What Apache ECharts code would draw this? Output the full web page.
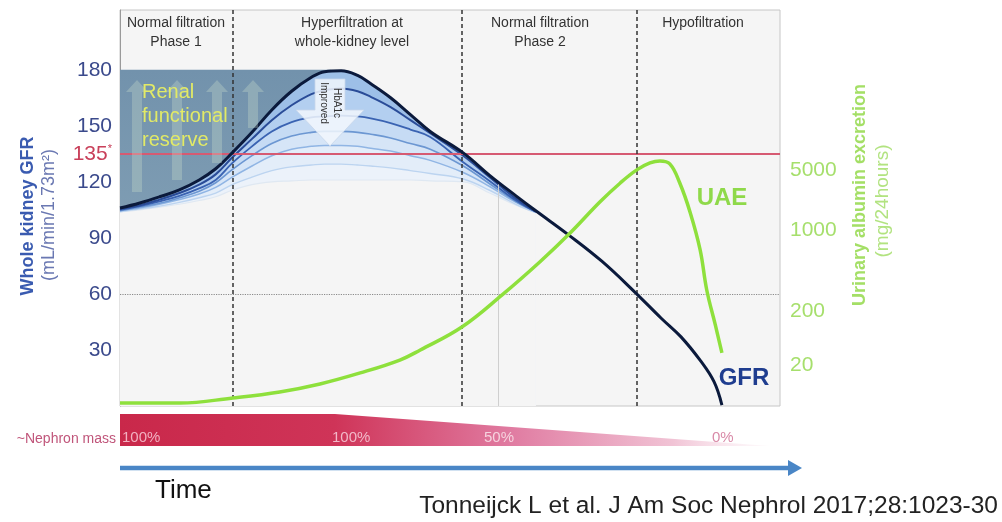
<!DOCTYPE html>
<html>
<head>
<meta charset="utf-8">
<script src="https://cdn.jsdelivr.net/npm/echarts@6/dist/echarts.min.js"></script>
<style>
html, body { margin: 0; padding: 0; background: #fff; }
#main { width: 1002px; height: 522px; }
</style>
</head>
<body>
<div id="main"></div>
<script>
// time axis runs 0..100 across the plot, GFR in mL/min/1.73m2
var gfrX = [0, 3, 6, 9, 12, 14.5, 17, 20, 23, 26, 29, 31, 33.5, 36, 38, 41, 44, 47, 52, 56, 60, 63, 68, 73, 78, 82, 85, 88, 90, 91.2];
var gfrMain = [106, 108.7, 112, 115.7, 121, 127, 135.5, 146.5, 158.5, 168.5, 176, 179, 179.5, 177, 172.5, 165, 156, 147, 135.5, 123.5, 112.5, 104.5, 91.5, 77.5, 61, 47, 37, 24, 13, 0.5];

// lower curves (improved HbA1c), they join the main curve at x = 63
var gfrC2 = [105.5, 107.5, 110.5, 114, 118.5, 124, 133, 143, 153, 161, 167, 169, 170, 168.5, 165.5, 160, 153, 146, 134, 122.5, 111, 104];
var gfrC3 = [105, 107, 109.5, 112.5, 116.5, 121, 130, 139, 147, 152, 154.5, 155, 155.5, 155, 154, 151.5, 148, 144, 130.5, 120.5, 110, 104];
var gfrC4 = [104.5, 106.5, 108.5, 111.5, 115, 119.5, 126.5, 134, 140.5, 144.5, 146.5, 147, 147, 146.5, 145.5, 143.5, 140.5, 137.5, 128.5, 119, 109.5, 104];
var gfrC5 = [104.5, 106, 108, 110.5, 113.5, 117, 122.5, 128.5, 134, 137.5, 139, 139.5, 139.5, 139, 138, 136.5, 134, 131.5, 125, 117.5, 109, 104];
var gfrC6 = [104, 105.5, 107, 109, 111.5, 114, 118.5, 122.5, 126, 128, 129, 129.5, 129.5, 129, 128.5, 127.5, 126, 124.5, 121.5, 115.5, 108, 103.5];
var gfrC7 = [104, 105, 106.5, 108, 110, 112, 115.5, 118.5, 120, 120.5, 121, 121, 121, 121, 121, 121, 121, 120.5, 120, 114, 107.5, 103.5];

// UAE drawn in the same plot units as the left axis
var uaeX = [0, 9.1, 17.1, 24.2, 30.3, 36.4, 42.4, 45.5, 51.8, 57.9, 63.6, 68.2, 72.7, 75.8, 78.3, 80.3, 81.8, 83.3, 84.8, 86.4, 87.9, 88.9, 90.2, 91.2];
var uaeY = [1.6, 1.6, 4.3, 7.5, 11.8, 17.7, 24.6, 30, 42.3, 59.5, 77.1, 92.6, 109.2, 119.4, 126.4, 130.1, 131.2, 129.6, 119.5, 103.5, 83.6, 62.1, 43.4, 28.4];

var gfrTicks = [30, 60, 90, 120, 150, 180];
var gfrLabels = [30, 60, 90, 120, 135, 150, 180];
var uaeTickPos = [22, 51, 94, 126];
var uaeTickLabels = ['20', '200', '1000', '5000'];

var phaseBounds = [17.1, 51.8, 78.3];
var reserveX = [0, 32];
var reserveLevel = 180;
var normalLevel = 135;
var ckdLevel = 60;

function pairs(xs, ys) {
	var out = [];
	for (var i = 0; i < ys.length; i++) {
		out.push([xs[i], ys[i]]);
	}
	return out;
}

var family = [
	{ data: gfrMain.slice(0, 22), line: '#0b1a3c', fill: '#9dbfe7', w: 3 },
	{ data: gfrC2, line: '#2a4c98', fill: '#b3cff0', w: 2 },
	{ data: gfrC3, line: '#3a63b2', fill: '#c6dbf4', w: 1.8 },
	{ data: gfrC4, line: '#6c97d2', fill: '#d6e5f7', w: 1.6 },
	{ data: gfrC5, line: '#90b5e4', fill: '#e3edf9', w: 1.5 },
	{ data: gfrC6, line: '#bcd4f0', fill: '#ecf2fa', w: 1.4 },
	{ data: gfrC7, line: '#dfe8f2', fill: '#f5f5f5', w: 1.2 }
];

var series = [];

// renal functional reserve box (lower part is covered by the curve fills)
series.push({
	type: 'line',
	z: 1,
	silent: true,
	symbol: 'none',
	data: [[reserveX[0], reserveLevel], [reserveX[1], reserveLevel]],
	lineStyle: { width: 0 },
	areaStyle: {
		opacity: 1,
		color: new echarts.graphic.LinearGradient(0, 0, 0, 1, [
			{ offset: 0, color: '#7292ac' },
			{ offset: 1, color: '#8eaabc' }
		])
	}
});

family.forEach(function (f) {
	series.push({
		type: 'line',
		z: 2,
		silent: true,
		symbol: 'none',
		smooth: 0.4,
		data: pairs(gfrX, f.data),
		lineStyle: { width: 0 },
		areaStyle: { color: f.fill, opacity: 1 }
	});
});

// reference lines
series.push({
	type: 'line',
	z: 3,
	silent: true,
	data: [],
	markLine: {
		silent: true,
		symbol: 'none',
		label: { show: false },
		data: [
			{ yAxis: normalLevel, lineStyle: { color: '#d65a72', width: 2, type: 'solid' } },
			{ yAxis: ckdLevel, lineStyle: { color: '#8a8a8a', width: 1.2, type: 'dotted' } },
			[{ coord: [57.3, 119], lineStyle: { color: '#cfcfcf', width: 1, type: 'solid' } }, { coord: [57.3, 0] }]
		].concat(phaseBounds.map(function (x) {
			return { xAxis: x, lineStyle: { color: '#333', width: 1.5, type: [4, 3] } };
		}))
	}
});

family.slice(1).reverse().forEach(function (f) {
	series.push({
		type: 'line',
		z: 4,
		silent: true,
		symbol: 'none',
		smooth: 0.4,
		data: pairs(gfrX, f.data),
		lineStyle: { color: f.line, width: f.w }
	});
});

series.push({
	name: 'GFR',
	type: 'line',
	z: 5,
	symbol: 'none',
	smooth: 0.4,
	data: pairs(gfrX, gfrMain),
	lineStyle: { color: '#0b1a3c', width: 3 }
});

series.push({
	name: 'UAE',
	type: 'line',
	z: 6,
	yAxisIndex: 1,
	symbol: 'none',
	smooth: 0.4,
	data: pairs(uaeX, uaeY),
	lineStyle: { color: '#8ee03c', width: 3.5 }
});

function upArrow(cx, top, bottom) {
	return {
		type: 'polygon',
		z: 20,
		silent: true,
		shape: { points: [[cx - 5, bottom], [cx - 5, top + 12], [cx - 11, top + 12], [cx, top], [cx + 11, top + 12], [cx + 5, top + 12], [cx + 5, bottom]] },
		style: { fill: 'rgba(215,235,210,0.28)' }
	};
}

function txt(x, y, text, font, color, align, rot) {
	return {
		type: 'text',
		z: 30,
		silent: true,
		x: x,
		y: y,
		rotation: rot || 0,
		style: {
			text: text,
			font: font,
			fill: color,
			textAlign: align || 'center',
			textVerticalAlign: 'middle'
		}
	};
}

var FF = '"Liberation Sans", Arial, sans-serif';

var graphics = [
	upArrow(137, 80, 192),
	upArrow(177, 80, 180),
	upArrow(217, 80, 163),
	upArrow(253, 80, 128),
	{
		type: 'polygon',
		z: 25,
		silent: true,
		shape: { points: [[315, 79], [345, 79], [345, 110], [364, 110], [330, 146], [296, 110], [315, 110]] },
		style: { fill: 'rgba(242,247,253,0.85)', stroke: 'rgba(200,215,235,0.8)', lineWidth: 1 }
	},
	txt(324, 103, 'Improved', '10px ' + FF, '#333', 'center', -Math.PI / 2),
	txt(337, 103, 'HbA1c', '10px ' + FF, '#333', 'center', -Math.PI / 2),
	txt(142, 92, 'Renal', '20px ' + FF, '#e2ea66', 'left'),
	txt(142, 116, 'functional', '20px ' + FF, '#e2ea66', 'left'),
	txt(142, 140, 'reserve', '20px ' + FF, '#e2ea66', 'left'),

	txt(176, 23, 'Normal filtration', '14px ' + FF, '#333'),
	txt(176, 42, 'Phase 1', '14px ' + FF, '#333'),
	txt(352, 23, 'Hyperfiltration at', '14px ' + FF, '#333'),
	txt(352, 42, 'whole-kidney level', '14px ' + FF, '#333'),
	txt(540, 23, 'Normal filtration', '14px ' + FF, '#333'),
	txt(540, 42, 'Phase 2', '14px ' + FF, '#333'),
	txt(703, 23, 'Hypofiltration', '14px ' + FF, '#333'),

	txt(722, 198, 'UAE', 'bold 24px ' + FF, '#8fd94a'),
	txt(744, 378, 'GFR', 'bold 24px ' + FF, '#1f3d8f'),

	txt(28, 216, 'Whole kidney GFR', 'bold 18px ' + FF, '#3a5bb0', 'center', Math.PI / 2),
	txt(49, 215, '(mL/min/1.73m\u00b2)', '18px ' + FF, '#6a78b2', 'center', Math.PI / 2),
	txt(860, 195, 'Urinary albumin excretion', 'bold 18px ' + FF, '#a4df66', 'center', Math.PI / 2),
	txt(883, 201, '(mg/24hours)', '19px ' + FF, '#b2e380', 'center', Math.PI / 2),

	// nephron mass band
	{
		type: 'polygon',
		z: 10,
		silent: true,
		shape: { points: [[120, 414], [335, 414], [770, 446], [120, 446]] },
		style: {
			fill: new echarts.graphic.LinearGradient(0, 0, 1, 0, [
				{ offset: 0, color: '#c9284a' },
				{ offset: 0.33, color: '#cf3458' },
				{ offset: 0.6, color: '#e07ba1' },
				{ offset: 0.85, color: '#f1c3d5' },
				{ offset: 1, color: 'rgba(250,236,242,0.3)' }
			])
		}
	},
	txt(116, 439, '~Nephron mass', '14px ' + FF, '#c0557a', 'right'),
	txt(122, 438, '100%', '15px ' + FF, '#f2b0c0', 'left'),
	txt(332, 438, '100%', '15px ' + FF, '#f2b8c8', 'left'),
	txt(484, 438, '50%', '15px ' + FF, '#f6d2de', 'left'),
	txt(712, 438, '0%', '15px ' + FF, '#d98aa8', 'left'),

	// time arrow
	{
		type: 'line',
		z: 10,
		silent: true,
		shape: { x1: 120, y1: 468, x2: 790, y2: 468 },
		style: { stroke: '#4a86c6', lineWidth: 4.5 }
	},
	{
		type: 'polygon',
		z: 10,
		silent: true,
		shape: { points: [[788, 460], [802, 468], [788, 476]] },
		style: { fill: '#4a86c6' }
	},
	txt(155, 491, 'Time', '26px ' + FF, '#111', 'left'),
	txt(998, 506, 'Tonneijck L et al. J Am Soc Nephrol 2017;28:1023-30', '24.5px ' + FF, '#222', 'right')
];

var chart = echarts.init(document.getElementById('main'));
var option = {
	backgroundColor: '#fff',
	animation: false,
	grid: {
		left: 120,
		right: 222,
		top: 10,
		bottom: 116,
		show: true,
		backgroundColor: '#f5f5f5',
		borderColor: '#c6c6c6',
		borderWidth: 1
	},
	xAxis: {
		type: 'value',
		min: 0,
		max: 100,
		show: false
	},
	yAxis: [{
		type: 'value',
		min: 0,
		max: 212,
		position: 'left',
		splitLine: { show: false },
		axisLine: { show: true, lineStyle: { color: '#9a9a9a', width: 1 } },
		axisTick: { show: true, inside: true, length: 5, customValues: gfrTicks, lineStyle: { color: '#888' } },
		axisLabel: {
			customValues: gfrLabels,
			margin: 8,
			formatter: function (v) {
				if (v === normalLevel) return '{red|' + v + '}{sup|*}';
				return '{blu|' + v + '}';
			},
			rich: {
				blu: { color: '#3b4a8c', fontSize: 21, fontFamily: FF },
				red: { color: '#c9405a', fontSize: 21, fontFamily: FF },
				sup: { color: '#c9405a', fontSize: 11, fontFamily: FF, padding: [0, 0, 10, 0] }
			}
		}
	}, {
		type: 'value',
		min: 0,
		max: 212,
		position: 'right',
		splitLine: { show: false },
		axisLine: { show: false },
		axisTick: { show: false },
		axisLabel: {
			customValues: uaeTickPos,
			margin: 10,
			color: '#a6df6c',
			fontSize: 21,
			fontFamily: FF,
			formatter: function (v) {
				var i = uaeTickPos.indexOf(v);
				return i >= 0 ? uaeTickLabels[i] : '';
			}
		}
	}],
	series: series,
	graphic: graphics
};
chart.setOption(option);
</script>
</body>
</html>
